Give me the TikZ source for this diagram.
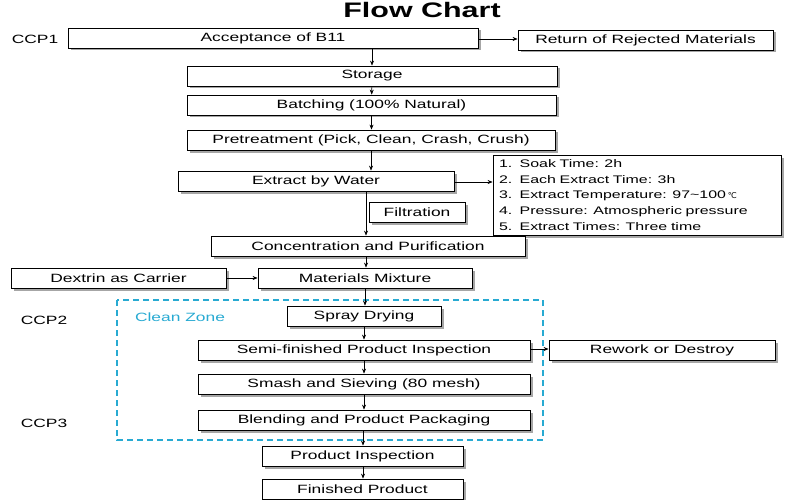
\documentclass[tikz,border=0pt]{standalone}
\usepackage{fontspec}
\setmainfont{Liberation Sans}[FakeStretch=1.45]
\usetikzlibrary{arrows.meta}
\definecolor{cz}{RGB}{40,170,210}
\begin{document}
\begin{tikzpicture}[x=1pt,y=-1pt,
 box/.style={draw,fill=white,line width=0.8pt,inner sep=0pt,font=\fontsize{12}{14}\selectfont},
 shd/.style={fill=gray!70},
 arr/.style={-{Stealth[length=5pt,width=4pt]},line width=0.6pt},
 lab/.style={font=\fontsize{12}{14}\selectfont}]
\useasboundingbox (0,0) rectangle (800,500);
\newcommand{\bx}[6]{\fill[shd] (#2+2.5,#3+2.5) rectangle (#4+2.5,#5+2.5);\node[box,minimum width=#4-#2,minimum height=#5-#3] (#1) at ({(#2+#4)/2},{(#3+#5)/2}) {#6};}
\node[font=\bfseries\fontsize{21}{24}\selectfont] (title) at (422,10) {Flow Chart};
\bx{acc}{68}{28}{478}{48}{Acceptance of B11}
\bx{ret}{518}{30}{773}{50}{Return of Rejected Materials}
\bx{sto}{187}{66}{557}{86}{Storage}
\bx{bat}{187}{95}{556}{115}{Batching (100\% Natural)}
\bx{pre}{187}{130}{555}{150}{Pretreatment (Pick, Clean, Crash, Crush)}
\bx{ext}{178}{171}{454}{191}{Extract by Water}
\fill[shd] (495.5,157.5) rectangle (783.5,237.5);
\node[box,minimum width=288,minimum height=80,align=left,text width=276,font=\fontsize{11}{15.6}\selectfont] (lst) at (637,195) {1.\ \ Soak Time: 2h\\2.\ \ Each Extract Time: 3h\\3.\ \ Extract Temperature: 97\textasciitilde100\,\raisebox{0.1ex}{\fontspec{DejaVu Sans}\footnotesize ℃}\\4.\ \ Pressure: Atmospheric pressure\\5.\ \ Extract Times: Three time};
\bx{fil}{369}{202}{465}{222}{Filtration}
\bx{con}{211}{236}{525}{256}{Concentration and Purification}
\bx{dex}{11}{268}{226}{288}{Dextrin as Carrier}
\bx{mix}{258}{268}{472}{288}{Materials Mixture}
\draw[cz,line width=1.5pt,dash pattern=on 6pt off 4pt] (117,300) rectangle (543,440);
\node[cz,lab] (cz) at (180,317) {Clean Zone};
\bx{spr}{287}{306}{441}{326}{Spray Drying}
\bx{semi}{198}{340}{530}{360}{Semi-finished Product Inspection}
\bx{rew}{549}{340}{775}{360}{Rework or Destroy}
\bx{sma}{198}{374}{530}{394}{Smash and Sieving (80 mesh)}
\bx{ble}{198}{410}{530}{430}{Blending and Product Packaging}
\bx{pin}{262}{446}{463}{466}{Product Inspection}
\bx{fin}{262}{479}{463}{499}{Finished Product}
\node[lab] (c1) at (35,39) {CCP1};
\node[lab] (c2) at (44,320) {CCP2};
\node[lab] (c3) at (44,423) {CCP3};
\draw[arr] (acc.south -| sto.north) -- (sto.north);
\draw[arr] (sto) -- (bat);
\draw[arr] (bat.south) -- (bat.south |- pre.north);
\draw[arr] (pre.south) -- (pre.south |- ext.north);
\draw[arr] (ext.south -| 366,0) -- (con.north -| 366,0);
\draw[arr] (con.south -| 366,0) -- (mix.north -| 366,0);
\draw[arr] (mix.south -| 365,0) -- (spr.north -| 365,0);
\draw[arr] (spr.south -| 364,0) -- (semi.north -| 364,0);
\draw[arr] (semi.south -| 364,0) -- (sma.north -| 364,0);
\draw[arr] (sma.south -| 364,0) -- (ble.north -| 364,0);
\draw[arr] (ble.south -| 363,0) -- (pin.north -| 363,0);
\draw[arr] (pin.south -| 363,0) -- (fin.north -| 363,0);
\draw[arr] (acc.east |- 0,39) -- (ret.west |- 0,39);
\draw[arr] (ext.east |- 0,182) -- (lst.west |- 0,182);
\draw[arr] (dex.east |- 0,278) -- (mix.west |- 0,278);
\draw[arr] (semi.east |- 0,349) -- (rew.west |- 0,349);
\end{tikzpicture}
\end{document}
